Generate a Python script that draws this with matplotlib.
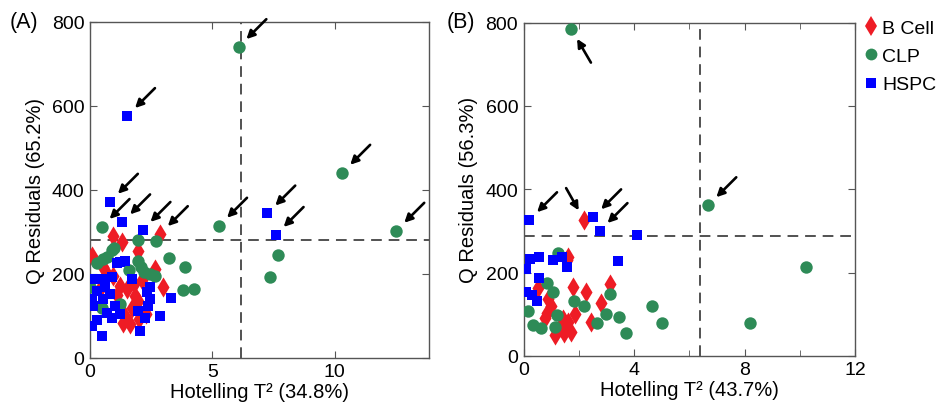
import numpy as np
import matplotlib
matplotlib.use("Agg")
import matplotlib.pyplot as plt
from matplotlib.lines import Line2D

plt.rcParams['font.family'] = ['Liberation Sans', 'DejaVu Sans']

# ---- panel A data (Hotelling T2, Q residuals) ----
a_bcell_x = [2.86, 0.95, 1.29, 1.97, 0.07, 0.54, 2.65, 3.0, 1.22, 1.5, 1.84, 1.97,
             1.36, 1.63, 2.27, 2.11, 0.95, 0.41, 1.1, 1.7, 2.0, 1.45, 0.7, 1.8]
a_bcell_y = [295, 289, 275, 255, 243, 216, 212, 168, 172, 164, 148, 136,
             84, 80, 104, 186, 196, 164, 150, 120, 92, 100, 200, 175]

a_clp_x = [6.07, 10.31, 12.52, 5.28, 7.69, 7.37, 0.48, 1.95, 2.69, 0.88, 0.54, 0.27,
           1.97, 2.1, 2.45, 2.65, 3.24, 3.88, 3.81, 4.24, 0.0, 1.22, 0.7, 1.6,
           0.5, 2.2, 1.0]
a_clp_y = [740, 441, 303, 315, 245, 193, 312, 281, 279, 258, 235, 227,
           231, 216, 200, 194, 237, 216, 162, 165, 168, 128, 240, 210,
           120, 205, 262]

a_hspc_x = [1.52, 0.82, 1.32, 2.15, 7.25, 7.59, 1.7, 1.22, 1.43, 1.09, 0.14, 0.48,
            0.88, 0.27, 0.82, 0.07, 0.54, 1.02, 0.14, 0.68, 1.22, 0.07, 0.48, 2.31,
            2.45, 2.38, 1.97, 2.24, 2.04, 2.86, 3.33, 2.45, 0.3, 0.9, 0.6]
a_hspc_y = [576, 372, 323, 305, 344, 293, 188, 229, 231, 227, 188, 188,
            192, 160, 152, 140, 140, 124, 124, 108, 104, 76, 52, 156,
            140, 124, 112, 96, 64, 100, 142, 168, 90, 95, 170]

# flagged samples in A (arrows)
a_flag_x = [6.07, 1.52, 0.82, 0.48, 1.32, 2.15, 2.86, 5.28, 10.31, 12.52, 7.25, 7.59]
a_flag_y = [740, 576, 372, 312, 323, 305, 295, 315, 441, 303, 344, 293]

# ---- panel B data ----
b_bcell_x = [2.19, 1.79, 2.25, 3.12, 2.81, 2.45, 1.13, 1.46, 1.73, 1.87, 1.62, 1.43,
             0.83, 0.89, 0.53, 0.77, 1.55, 1.6, 1.0, 1.3]
b_bcell_y = [326, 166, 154, 172, 126, 81, 50, 56, 58, 100, 82, 88,
             104, 136, 164, 90, 230, 238, 120, 70]

b_clp_x = [1.73, 6.69, 10.23, 8.2, 5.0, 4.66, 3.72, 3.45, 3.14, 2.97, 2.64, 2.2,
           1.83, 1.25, 1.07, 0.83, 1.2, 1.12, 0.63, 0.34, 0.17]
b_clp_y = [784, 362, 214, 78, 78, 120, 55, 94, 148, 101, 79, 120,
           132, 247, 153, 176, 97, 70, 68, 75, 108]

b_hspc_x = [0.2, 2.52, 2.75, 4.1, 3.43, 1.55, 1.37, 1.05, 0.56, 0.23, 0.08, 0.56,
            0.09, 0.3, 0.47]
b_hspc_y = [326, 333, 300, 289, 227, 213, 237, 230, 237, 232, 209, 187,
            154, 146, 131]

b_flag_x = [1.73, 0.2, 2.19, 2.52, 2.75, 6.69]
b_flag_y = [784, 326, 326, 333, 300, 362]
b_flag_dir = ['below', 'ur', 'ul', 'ur', 'ur', 'ur']

a_limits = (6.16, 281)   # T2 limit, Q limit
b_limits = (6.39, 288)
a_xlabel = 'Hotelling T\u00b2 (34.8%)'
a_ylabel = 'Q Residuals (65.2%)'
b_xlabel = 'Hotelling T\u00b2 (43.7%)'
b_ylabel = 'Q Residuals (56.3%)'

RED = '#ee1c25'
GREEN = '#2e8b57'
BLUE = '#0000ff'
SPINE = '#555555'

offsets = {'ur': (20, 20), 'ul': (-13, 23), 'below': (14, -24)}


def style_axes(ax, xmax, major, minor):
    ax.set_xlim(0, xmax)
    ax.set_ylim(0, 800)
    ax.set_xticks(major)
    if minor is not None:
        ax.set_xticks(minor, minor=True)
    ax.set_yticks([0, 200, 400, 600, 800])
    ax.tick_params(which='both', direction='in', top=True, right=True,
                   color=SPINE, labelsize=14, pad=4)
    ax.tick_params(which='major', length=5)
    ax.tick_params(which='minor', length=4)
    for s in ax.spines.values():
        s.set_color(SPINE)
        s.set_linewidth(1.0)


def draw_panel(ax, bc, clp, hs, lim, flags, dirs):
    ax.scatter(bc[0], bc[1], marker='d', s=105, color=RED, linewidths=0, zorder=3)
    ax.scatter(clp[0], clp[1], marker='o', s=80, color=GREEN, linewidths=0, zorder=4)
    ax.scatter(hs[0], hs[1], marker='s', s=55, color=BLUE, linewidths=0, zorder=5)
    ax.axvline(lim[0], color='#222222', lw=1.1, ls=(0, (7, 4.5)), zorder=2)
    ax.axhline(lim[1], color='#222222', lw=1.1, ls=(0, (7, 4.5)), zorder=2)
    for x, y, d in zip(flags[0], flags[1], dirs):
        ax.annotate('', xy=(x, y), xytext=offsets[d], textcoords='offset points',
                    arrowprops=dict(arrowstyle='-|>', color='k', lw=1.9,
                                    mutation_scale=12, shrinkA=0, shrinkB=8),
                    zorder=6)


fig = plt.figure(figsize=(9.47, 4.14), dpi=100)
axA = fig.add_axes([0.095, 0.133, 0.358, 0.812])
axB = fig.add_axes([0.553, 0.138, 0.350, 0.805])

draw_panel(axA, (a_bcell_x, a_bcell_y), (a_clp_x, a_clp_y), (a_hspc_x, a_hspc_y),
           a_limits, (a_flag_x, a_flag_y), ['ur'] * len(a_flag_x))
style_axes(axA, 13.85, [0, 5, 10], None)
axA.set_xlabel(a_xlabel, fontsize=14.5, labelpad=1)
axA.set_ylabel(a_ylabel, fontsize=14.5, labelpad=5)

draw_panel(axB, (b_bcell_x, b_bcell_y), (b_clp_x, b_clp_y), (b_hspc_x, b_hspc_y),
           b_limits, (b_flag_x, b_flag_y), b_flag_dir)
style_axes(axB, 12, [0, 4, 8, 12], [2, 6, 10])
axB.set_xlabel(b_xlabel, fontsize=14.5, labelpad=1)
axB.set_ylabel(b_ylabel, fontsize=14.5, labelpad=5)

fig.text(0.010, 0.945, '(A)', fontsize=15.5, va='center')
fig.text(0.472, 0.945, '(B)', fontsize=15.5, va='center')

handles = [Line2D([], [], marker='d', color=RED, ls='none', markersize=10, markeredgewidth=0),
           Line2D([], [], marker='o', color=GREEN, ls='none', markersize=8.5, markeredgewidth=0),
           Line2D([], [], marker='s', color=BLUE, ls='none', markersize=7, markeredgewidth=0)]
fig.legend(handles, ['B Cell', 'CLP', 'HSPC'], loc='upper left',
           bbox_to_anchor=(0.9, 0.97), frameon=False, fontsize=14,
           handletextpad=0.05, handlelength=1.1, labelspacing=0.55, borderaxespad=0)

fig.savefig('out.png', dpi=100)
